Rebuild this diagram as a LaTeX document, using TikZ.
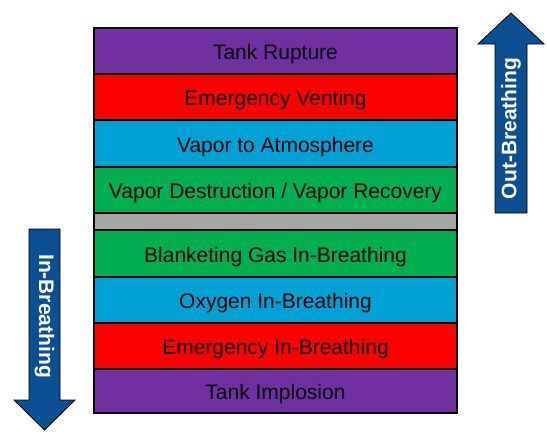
\documentclass[tikz,border=0pt]{standalone}
\usepackage{fontspec}
\setmainfont{Liberation Sans}
\definecolor{cpurple}{HTML}{7030A0}
\definecolor{cred}{HTML}{FF0000}
\definecolor{cblue}{HTML}{00A2D6}
\definecolor{cgreen}{HTML}{00B050}
\definecolor{cgray}{HTML}{A6A6A6}
\definecolor{carrow}{HTML}{0A4F91}
\begin{document}
\begin{tikzpicture}[x=1pt,y=-1pt,
  row/.style={draw=black,line width=1.5pt,minimum width=363pt,minimum height=46pt,inner sep=0pt,text height=17pt,text depth=0pt,font=\fontsize{21pt}{24pt}\selectfont,text=black},
  bigarrow/.style={fill=carrow,draw=black,line width=0.8pt},
  arrowtext/.style={text=white,font=\bfseries\fontsize{21pt}{24pt}\selectfont,inner sep=0pt}]
\useasboundingbox (0,0) rectangle (547,439);
\node[row,fill=cpurple] (r1) at (275.5,51) {Tank Rupture};
\node[row,fill=cred] (r2) at (275.5,97) {Emergency Venting};
\node[row,fill=cblue] (r3) at (275.5,143.5) {Vapor to Atmosphere};
\node[row,fill=cgreen] (r4) at (275.5,190) {Vapor Destruction / Vapor Recovery};
\node[row,fill=cgray,minimum height=17pt,text height=0pt] (g) at (275.5,221.5) {};
\node[row,fill=cgreen] (r5) at (275.5,253.5) {Blanketing Gas In-Breathing};
\node[row,fill=cblue] (r6) at (275.5,300) {Oxygen In-Breathing};
\node[row,fill=cred] (r7) at (275.5,346) {Emergency In-Breathing};
\node[row,fill=cpurple,minimum height=44pt] (r8) at (275.5,391) {Tank Implosion};
\draw[bigarrow] (29,229) -- (60,229) -- (60,400) -- (75,400) -- (44.5,430) -- (14,400) -- (29,400) -- cycle;
\node[arrowtext,rotate=-90] (inb) at (44.5,316) {In-Breathing};
\draw[bigarrow] (495,213) -- (527,213) -- (527,44) -- (544,44) -- (511,13) -- (478,44) -- (495,44) -- cycle;
\node[arrowtext,rotate=90] (outb) at (511,128.5) {Out-Breathing};
\end{tikzpicture}
\end{document}
